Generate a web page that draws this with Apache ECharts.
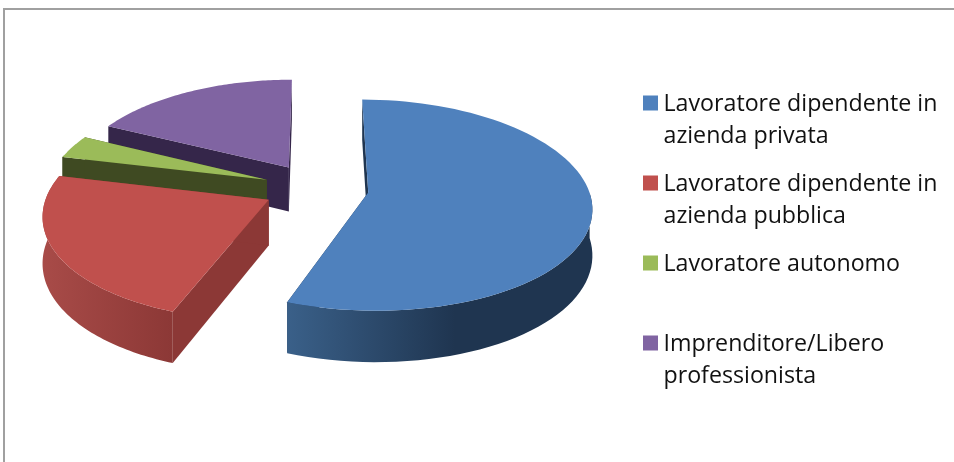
<!DOCTYPE html>
<html>
<head>
<meta charset="utf-8">
<style>html,body{margin:0;padding:0;background:#fff}#c{width:954px;height:462px}</style>
<script src="https://cdn.jsdelivr.net/npm/echarts@6/dist/echarts.min.js"></script>
</head>
<body>
<div id="c"></div>
<script>
const categories = ['Lavoratore dipendente in\nazienda privata','Lavoratore dipendente in\nazienda pubblica','Lavoratore autonomo','Imprenditore/Libero\nprofessionista'];
const values = [55.7, 23.0, 3.6, 17.7];
const topColors = ['#4F81BD','#C0504D','#9BBB59','#8064A2'];
const wallColors = ['#1F3550','#8C3836','#3F4A22','#35264A'];
const wallLight = ['#3A6089','#A84B48','#3F4A22','#35264A'];
const wallMid = [0.55, 1, 1, 1];

const CX = 316, CY = 188, R = 220, K = 0.468, PY = 0.12, PX = 0.13, EXPLODE = 0.24, DEPTH = 45;
const total = values.reduce((a, b) => a + b, 0);
let acc = 0;
const slices = values.map(v => {
  const a0 = acc / total * 2 * Math.PI; acc += v;
  return {a0, a1: acc / total * 2 * Math.PI};
});
function project(U, V) {
  const sx = 1 / (1 - PX * V), sy = 1 / (1 - PY * V);
  return {x: CX + R * U * sx, y: CY + R * K * V * sy, d: DEPTH * sy};
}
function renderSlice(i) {
  const {a0, a1} = slices[i];
  const mid = (a0 + a1) / 2;
  const eu = EXPLODE * Math.sin(mid), ev = -EXPLODE * Math.cos(mid);
  const pt = a => project(eu + Math.sin(a), ev - Math.cos(a));
  const apex = project(eu, ev);
  const n = 80, arc = [];
  for (let j = 0; j <= n; j++) arc.push(a0 + (a1 - a0) * j / n);
  const top = [[apex.x, apex.y]].concat(arc.map(a => { const p = pt(a); return [p.x, p.y]; }));
  const fill = (points, color) => ({type: 'polygon', shape: {points}, style: {fill: color, stroke: null}, silent: true});
  const radial = a => { const p = pt(a); return [[apex.x, apex.y],[p.x, p.y],[p.x, p.y + p.d],[apex.x, apex.y + apex.d]]; };
  const front = arc.filter(a => a >= Math.PI / 2 && a <= 1.5 * Math.PI + 0.25);
  const children = [fill(radial(a0), wallColors[i]), fill(radial(a1), wallColors[i])];
  if (front.length > 1) {
    const up = front.map(a => { const p = pt(a); return [p.x, p.y]; });
    const low = front.map(a => { const p = pt(a); return [p.x, p.y + p.d]; }).reverse();
    const grad = i === 0
      ? new echarts.graphic.LinearGradient(0, 0, 1, 0, [{offset: 0, color: wallLight[i]},{offset: wallMid[i], color: wallColors[i]},{offset: 1, color: wallColors[i]}])
      : new echarts.graphic.LinearGradient(0, 0, 1, 0, [{offset: 0, color: wallLight[i]},{offset: 1, color: wallColors[i]}]);
    children.push(fill(up.concat(low), grad));
  }
  children.push(fill(top, topColors[i]));
  return {type: 'group', children};
}
const drawOrder = [3, 2, 1, 0];
const series = drawOrder.map(i => ({
  type: 'custom', name: categories[i], coordinateSystem: 'none', z: 10 - i,
  itemStyle: {color: topColors[i]}, animation: false, silent: true,
  data: [values[i]],
  renderItem: () => renderSlice(i)
}));
const chart = echarts.init(document.getElementById('c'), null, {renderer: 'canvas'});
chart.setOption({
  animation: false, backgroundColor: '#fff',
  graphic: [{type: 'rect', shape: {x: 4, y: 9, width: 1100, height: 600}, style: {fill: 'none', stroke: '#A0A0A0', lineWidth: 2}, silent: true, z: 0}],
  legend: {
    orient: 'vertical', left: 643, top: 88, itemWidth: 16, itemHeight: 49, itemGap: 16, padding: 0,
    // square marker sits on the first text line, not the middle of the two-line label
    icon: 'path://M0 0H15V15H0Z M0 49L0.01 49Z',
    selectedMode: false, data: categories,
    formatter: n => n.includes('\n') ? n : n + '\n ',
    textStyle: {fontFamily: 'Open Sans', fontSize: 23.2, color: '#111', lineHeight: 32},
    itemStyle: {borderWidth: 0}
  },
  series
});
</script>
</body>
</html>
